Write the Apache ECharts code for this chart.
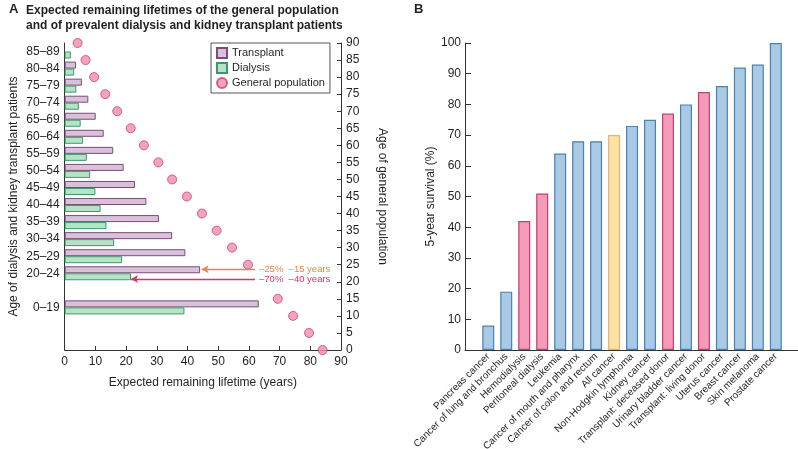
<!DOCTYPE html>
<html><head><meta charset="utf-8">
<script src="https://cdn.jsdelivr.net/npm/echarts@6/dist/echarts.min.js"></script>
<style>html,body{margin:0;padding:0;background:#fff}#c{width:798px;height:449px}</style>
</head><body><div id="c"></div>
<script>
// ---------- Panel A data ----------
const ageGroups = ['', '', '0–19', '', '20–24', '25–29', '30–34', '35–39', '40–44', '45–49', '50–54', '55–59', '60–64', '65–69', '70–74', '75–79', '80–84', '85–89'];
const transplantLifetime = [null, null, 63.2, null, 44.1, 39.3, 35.0, 30.7, 26.6, 22.9, 19.2, 15.8, 12.7, 10.1, 7.7, 5.6, 3.7, null];
const dialysisLifetime = [null, null, 39.0, null, 21.6, 18.7, 16.1, 13.6, 11.7, 10.0, 8.3, 7.2, 6.0, 5.2, 4.6, 3.8, 3.1, 2.0];
const populationAges = [0, 5, 10, 15, 25, 30, 35, 40, 45, 50, 55, 60, 65, 70, 75, 80, 85, 90];
const populationLifetime = [84.0, 79.6, 74.4, 69.4, 59.7, 54.5, 49.5, 44.7, 39.8, 35.0, 30.5, 25.8, 21.5, 17.1, 13.2, 9.6, 6.8, 4.2];
const annotationText = ['–25%  –15 years', '–70%  –40 years'];
const annotationAge = [23.65, 20.8];
const annotationFrom = [44.6, 21.6];
const annotationTo = [62.0, 62.0];

// ---------- Panel B data ----------
const survivalCategories = ['Pancreas cancer', 'Cancer of lung and bronchus', 'Hemodialysis', 'Peritoneal dialysis', 'Leukemia', 'Cancer of mouth and pharynx', 'Cancer of colon and rectum', 'All cancer', 'Non-Hodgkin lymphoma', 'Kidney cancer', 'Transplant: deceased donor', 'Urinary bladder cancer', 'Transplant: living donor', 'Uterus cancer', 'Breast cancer', 'Skin melanoma', 'Prostate cancer'];
const survivalValues = [8, 19, 42, 51, 64, 68, 68, 70, 73, 75, 77, 80, 84, 86, 92, 93, 100];
const survivalGroups = ['cancer', 'cancer', 'renal', 'renal', 'cancer', 'cancer', 'cancer', 'all', 'cancer', 'cancer', 'renal', 'cancer', 'renal', 'cancer', 'cancer', 'cancer', 'cancer'];

const FONT = '"Liberation Sans", Arial, sans-serif';
const TXT = '#231f20';
const groupStyle = {
  cancer: { color: '#a9c9e5', borderColor: '#4a82b2', borderWidth: 1.2 },
  renal: { color: '#f49bba', borderColor: '#c53f6d', borderWidth: 1.2 },
  all: { color: '#fde3a2', borderColor: '#e9b07a', borderWidth: 1.2 }
};
const annotationColors = ['#e8834a', '#d8336e'];

const chart = echarts.init(document.getElementById('c'), null, { renderer: 'canvas' });

const option = {
  animation: false,
  textStyle: { fontFamily: FONT, color: TXT },
  title: [
    { text: 'A', left: 4, top: -2, textStyle: { fontFamily: FONT, fontSize: 13, fontWeight: 'bold', color: TXT } },
    { text: 'Expected remaining lifetimes of the general population\nand of prevalent dialysis and kidney transplant patients', left: 21, top: -2,
      textStyle: { fontFamily: FONT, fontSize: 12, fontWeight: 'bold', color: TXT, lineHeight: 15 } },
    { text: 'B', left: 409, top: -2, textStyle: { fontFamily: FONT, fontSize: 13, fontWeight: 'bold', color: TXT } }
  ],
  legend: {
    data: [
      { name: 'Transplant', icon: 'rect' },
      { name: 'Dialysis', icon: 'rect' },
      { name: 'General population', icon: 'circle' }
    ],
    orient: 'vertical', left: 211, top: 43,
    itemWidth: 10, itemHeight: 10, itemGap: 3,
    padding: [4, 5, 4, 5],
    borderColor: '#555', borderWidth: 1,
    textStyle: { fontFamily: FONT, fontSize: 11, color: TXT }
  },
  grid: [
    { left: 64.7, right: 457, top: 43, bottom: 99, outerBoundsMode: 'none', containLabel: false },
    { left: 479.3, right: 13.2, top: 43, bottom: 99, outerBoundsMode: 'none', containLabel: false },
    { left: 465, right: 0, top: 43, bottom: 99, outerBoundsMode: 'none', containLabel: false }
  ],
  xAxis: [
    { type: 'value', gridIndex: 0, min: 0, max: 90, interval: 10,
      name: 'Expected remaining lifetime (years)', nameLocation: 'middle', nameGap: 27,
      nameTextStyle: { fontFamily: FONT, fontSize: 12, color: TXT },
      axisLine: { lineStyle: { color: '#333', width: 1 } },
      axisTick: { inside: true, length: 4, lineStyle: { color: '#333' } },
      axisLabel: { fontFamily: FONT, fontSize: 12, color: TXT, margin: 6 },
      splitLine: { show: false } },
    { type: 'category', gridIndex: 1, data: survivalCategories,
      axisLine: { show: false }, axisTick: { show: false },
      axisLabel: { interval: 0, rotate: 45, fontFamily: FONT, fontSize: 10, color: TXT, margin: 5 } },
    { type: 'value', gridIndex: 2, min: 0, max: 1,
      axisLine: { show: true, lineStyle: { color: '#333', width: 1.2 } },
      axisTick: { show: false }, axisLabel: { show: false }, splitLine: { show: false } }
  ],
  yAxis: [
    { type: 'category', gridIndex: 0, data: ageGroups,
      name: 'Age of dialysis and kidney transplant patients', nameLocation: 'middle', nameGap: 45,
      nameTextStyle: { fontFamily: FONT, fontSize: 12, color: TXT },
      axisLine: { lineStyle: { color: '#333', width: 1 } }, axisTick: { show: false },
      axisLabel: { fontFamily: FONT, fontSize: 12, color: TXT, margin: 5 } },
    { type: 'value', gridIndex: 0, position: 'right', min: 0, max: 90, interval: 5,
      name: 'Age of general population', nameLocation: 'middle', nameGap: 35, nameRotate: -90,
      nameTextStyle: { fontFamily: FONT, fontSize: 12, color: TXT },
      axisLine: { show: true, lineStyle: { color: '#333', width: 1 } },
      axisTick: { show: true, inside: true, length: 4, lineStyle: { color: '#333' } },
      axisLabel: { fontFamily: FONT, fontSize: 12, color: TXT, margin: 5 },
      splitLine: { show: false } },
    { type: 'value', gridIndex: 1, min: 0, max: 100, interval: 10, offset: 14.3,
      name: '5-year survival (%)', nameLocation: 'middle', nameGap: 27,
      nameTextStyle: { fontFamily: FONT, fontSize: 12, color: TXT },
      axisLine: { show: true, lineStyle: { color: '#333', width: 1 } },
      axisTick: { show: true, inside: true, length: 6, lineStyle: { color: '#333' } },
      axisLabel: { fontFamily: FONT, fontSize: 12, color: TXT, margin: 4 },
      splitLine: { show: false } },
    { type: 'value', gridIndex: 2, show: false, min: 0, max: 1 }
  ],
  series: [
    { name: 'Transplant', type: 'bar', xAxisIndex: 0, yAxisIndex: 0, data: transplantLifetime,
      barWidth: 7, barGap: '0%',
      itemStyle: { color: '#d9c1d9', borderColor: '#7a4d7a', borderWidth: 1 } },
    { name: 'Dialysis', type: 'bar', xAxisIndex: 0, yAxisIndex: 0, data: dialysisLifetime,
      barWidth: 7, barGap: '0%',
      itemStyle: { color: '#b6e3c6', borderColor: '#3c9a6a', borderWidth: 1 } },
    { name: 'General population', type: 'scatter', xAxisIndex: 0, yAxisIndex: 1,
      data: populationAges.map((a, i) => [populationLifetime[i], a]),
      symbolSize: 9,
      itemStyle: { color: '#f38cac', borderColor: '#c4436e', borderWidth: 1 },
      markLine: {
        silent: true, symbol: ['arrow', 'none'], symbolSize: [6, 7], precision: 2,
        data: annotationText.map((t, i) => [
          { coord: [annotationFrom[i], annotationAge[i]],
            lineStyle: { color: annotationColors[i], width: 1.3, type: 'solid' },
            label: { show: true, position: 'end', distance: 4, formatter: t, color: annotationColors[i], fontFamily: FONT, fontSize: 9.5 } },
          { coord: [annotationTo[i], annotationAge[i]] }
        ])
      } },
    { name: 'survival', type: 'bar', xAxisIndex: 1, yAxisIndex: 2, barWidth: 12,
      data: survivalValues.map((v, i) => ({ value: v, itemStyle: groupStyle[survivalGroups[i]] })) }
  ]
};
chart.setOption(option);
</script></body></html>
